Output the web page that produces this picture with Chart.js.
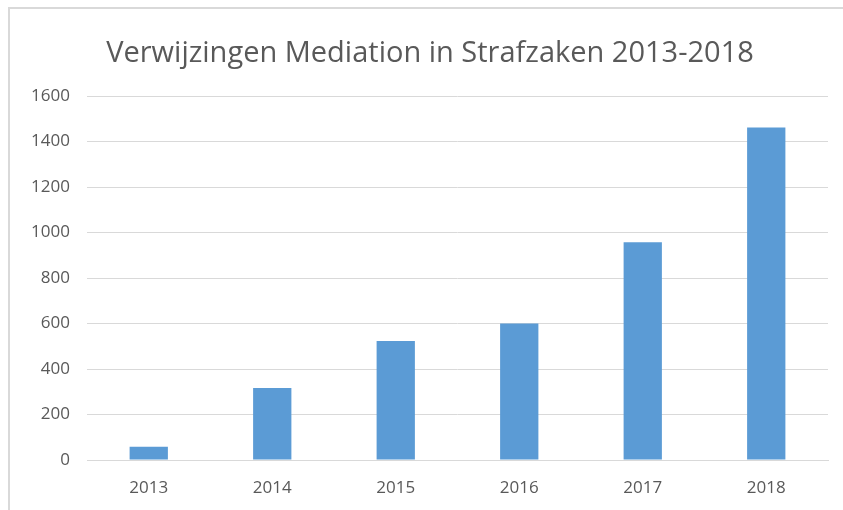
<!DOCTYPE html>
<html>
<head>
<meta charset="utf-8">
<script src="https://cdn.jsdelivr.net/npm/chart.js@4"></script>
<style>
  html, body { margin: 0; padding: 0; background: #fff; }
  #wrap { width: 843px; height: 510px; position: relative; }
</style>
</head>
<body>
<div id="wrap"><canvas id="myChart"></canvas></div>
<script>
// data block
const years = ['2013', '2014', '2015', '2016', '2017', '2018'];
const referrals = [58, 317, 523, 600, 957, 1462];
const yTicks = [0, 200, 400, 600, 800, 1000, 1200, 1400, 1600];

const titleText = 'Verwijzingen Mediation in Strafzaken 2013-2018';
const textColor = '#595959';

// frame + title block
const frameAndTitle = {
    id: 'frameAndTitle',
    beforeDraw(chart) {
        const { ctx, width, height } = chart;
        ctx.save();
        ctx.strokeStyle = '#d9d9d9';
        ctx.lineWidth = 2;
        ctx.beginPath();
        ctx.moveTo(9, height);
        ctx.lineTo(9, 8);
        ctx.lineTo(width, 8);
        ctx.stroke();
        ctx.restore();
    },
    afterDraw(chart) {
        const { ctx } = chart;
        ctx.save();
        ctx.fillStyle = textColor;
        ctx.font = '29px "Open Sans"';
        ctx.textAlign = 'center';
        ctx.textBaseline = 'alphabetic';
        ctx.fillText(titleText, 430, 62);
        ctx.restore();
    }
};

const data = {
    labels: years,
    datasets: [{
        label: 'Verwijzingen',
        data: referrals,
        backgroundColor: '#5b9bd5',
        borderColor: '#5b9bd5',
        borderWidth: 0,
        categoryPercentage: 1,
        barPercentage: 0.31
    }]
};

const config = {
    type: 'bar',
    data: data,
    options: {
        responsive: true,
        maintainAspectRatio: false,
        animation: false,
        layout: {
            padding: { top: 96, right: 15, bottom: 0, left: 0 }
        },
        scales: {
            x: {
                grid: { display: false, drawTicks: false },
                border: { display: true, color: '#d9d9d9', width: 1 },
                ticks: {
                    color: textColor,
                    font: { family: '"Open Sans"', size: 17 },
                    padding: 18
                },
                afterFit(scale) { scale.height = 50; }
            },
            y: {
                min: 0,
                max: 1600,
                afterBuildTicks(scale) {
                    scale.ticks = yTicks.map(v => ({ value: v }));
                },
                grid: { color: '#d9d9d9', lineWidth: 1, drawTicks: false },
                border: { display: false },
                ticks: {
                    color: textColor,
                    font: { family: '"Open Sans"', size: 17 },
                    padding: 17,
                    callback: v => String(v)
                },
                afterFit(scale) { scale.width = 87; }
            }
        },
        plugins: {
            legend: { display: false },
            title: { display: false },
            tooltip: { enabled: false }
        }
    },
    plugins: [frameAndTitle]
};

const myChart = new Chart(document.getElementById('myChart'), config);
</script>
</body>
</html>
